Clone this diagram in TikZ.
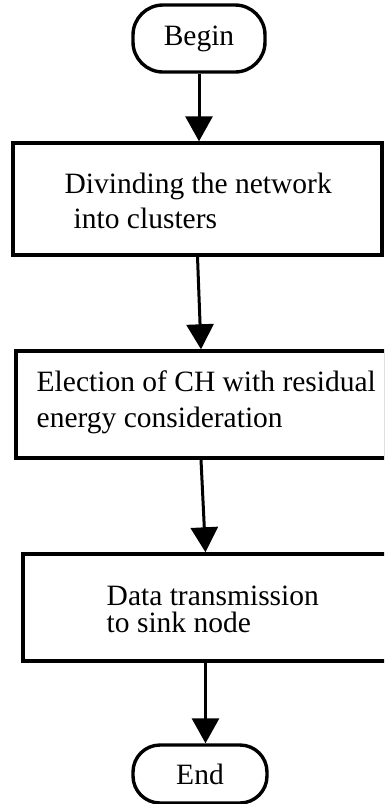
\documentclass[tikz,border=0pt]{standalone}
\usepackage{fontspec}
\setmainfont{Liberation Serif}
\usetikzlibrary{arrows.meta}
\begin{document}
\begin{tikzpicture}[x=1pt,y=-1pt,line width=3.4pt,
  term/.style={draw, rounded corners=30pt, inner sep=0pt, font=\fontsize{29.5}{34}\selectfont},
  procbox/.style={draw, inner sep=0pt},
  lbl/.style={anchor=base west, inner sep=0pt, font=\fontsize{29.5}{34}\selectfont},
  arr/.style={-{Triangle[width=27pt,length=25pt]}, line width=3pt}]
\useasboundingbox (0,0) rectangle (384,804);
\clip (0,0) rectangle (384,804);
\fill[white] (0,0) rectangle (384,804);
\node[term, minimum width=132pt, minimum height=67pt] (begin) at (199,38.5) {Begin};
\node[procbox, minimum width=369pt, minimum height=112pt] (b1) at (197.5,199) {};
\node[procbox, minimum width=370pt, minimum height=107pt] (b2) at (201,404.5) {};
\node[procbox, minimum width=365pt, minimum height=107pt] (b3) at (205.5,607.5) {};
\node[term, minimum width=134pt, minimum height=58pt, rounded corners=27pt] (end) at (200,774) {End};
\node[lbl] (t1a) at (63,193) {Divinding the network};
\node[lbl] (t1b) at (72,228) {into clusters};
\node[lbl] (t2a) at (35,391) {Election of CH with residual};
\node[lbl] (t2b) at (35,427) {energy consideration};
\node[lbl] (t3a) at (105,605) {Data transmission};
\node[lbl] (t3b) at (105,632) {to sink node};
\draw[arr] (begin.south) -- (begin.south |- b1.north);
\draw[arr] (b1.south) -- (b2.north);
\draw[arr] (b2.south) -- (b3.north);
\draw[arr] (b3.south) -- (b3.south |- end.north);
\end{tikzpicture}
\end{document}
